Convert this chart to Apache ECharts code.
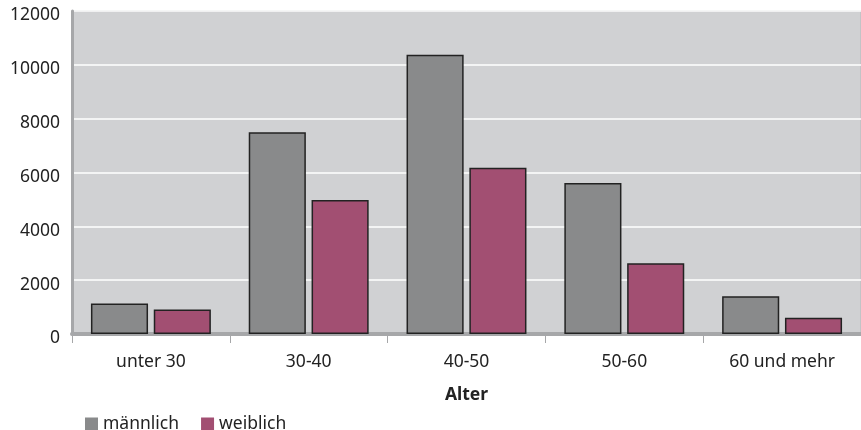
<!DOCTYPE html>
<html><head><meta charset="utf-8">
<script src="https://cdn.jsdelivr.net/npm/echarts@6/dist/echarts.min.js"></script>
<style>html,body{margin:0;padding:0;background:#fff}#c{width:861px;height:430px}</style>
</head><body><div id="c"></div>
<script>
const categories = ['unter 30', '30-40', '40-50', '50-60', '60 und mehr'];
const maennlich = [1130, 7500, 10370, 5610, 1400];
const weiblich = [910, 4980, 6180, 2630, 600];
const yTicks = [0, 2000, 4000, 6000, 8000, 10000, 12000];

const chart = echarts.init(document.getElementById('c'), null, {renderer: 'canvas'});
const font = 'Noto Sans';
const fs = 17.5;
chart.setOption({
  animation: false,
  textStyle: {fontFamily: font},
  grid: {left: 72, right: 0, top: 11, bottom: 96, show: true, backgroundColor: '#d0d1d3', borderColor: '#b5b6b8', borderWidth: 1},
  legend: {
    left: 80, top: 410, itemWidth: 13, itemHeight: 13, itemGap: 22,
    icon: 'rect',
    textStyle: {fontSize: fs, color: '#222', fontFamily: font},
    itemStyle: {borderWidth: 0},
    data: ['männlich', 'weiblich']
  },
  xAxis: {
    type: 'category', data: categories,
    name: 'Alter', nameLocation: 'middle', nameGap: 52,
    nameTextStyle: {fontSize: fs, fontWeight: 'bold', color: '#222', fontFamily: font},
    axisLine: {lineStyle: {color: '#a6a7a9', width: 4}},
    axisTick: {show: true, length: 9, lineStyle: {color: '#a6a7a9', width: 1}},
    axisLabel: {fontSize: fs, color: '#222', margin: 19, fontFamily: font},
    splitLine: {show: false}
  },
  yAxis: {
    type: 'value', min: 0, max: 12000, interval: 2000,
    axisLine: {show: true, lineStyle: {color: '#a6a7a9', width: 3}},
    axisTick: {show: false},
    axisLabel: {fontSize: fs, color: '#222', margin: 12, fontFamily: font,
      verticalAlign: 'top', lineHeight: 9,
      formatter: v => yTicks.includes(v) ? String(v) : ''},
    splitLine: {lineStyle: {color: '#ffffff', width: 1.5}}
  },
  series: [
    {name: 'männlich', type: 'bar', data: maennlich, barGap: '10%', barCategoryGap: '24%',
     itemStyle: {color: '#898a8b', borderColor: '#222', borderWidth: 1.5}},
    {name: 'weiblich', type: 'bar', data: weiblich,
     itemStyle: {color: '#a24f72', borderColor: '#222', borderWidth: 1.5}}
  ]
});
</script></body></html>
